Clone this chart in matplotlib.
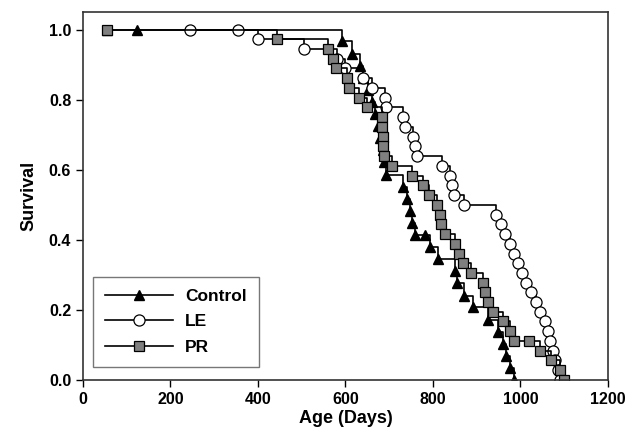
import numpy as np
import matplotlib
matplotlib.use("Agg")
import matplotlib.pyplot as plt

plt.rcParams['font.family'] = ['Liberation Sans', 'DejaVu Sans']
plt.rcParams['font.weight'] = 'bold'

# -------------------------------------------------------------------------------------------------- #

# Survival data (age in days, surviving fraction)

control_age = [55, 124, 592, 615, 633, 640, 652, 660, 668, 675, 680, 685, 688, 692, 731, 740, 748, 752,
               758, 782, 793, 811, 850, 856, 870, 892, 926, 949, 960, 968, 976, 985]
control_surv = [1.0, 1.0, 0.966, 0.931, 0.897, 0.862, 0.828, 0.793, 0.759, 0.724, 0.690, 0.655, 0.621,
                0.586, 0.552, 0.517, 0.483, 0.448, 0.414, 0.414, 0.379, 0.345, 0.310, 0.276, 0.241,
                0.207, 0.172, 0.138, 0.103, 0.069, 0.034, 0.0]

le_age = [245, 354, 400, 505, 580, 600, 640, 660, 690, 692, 732, 736, 755, 760, 763, 820, 839, 843, 848,
          870, 945, 955, 965, 975, 985, 995, 1003, 1012, 1025, 1035, 1045, 1055, 1062, 1068, 1075,
          1080, 1085, 1090]
le_surv = [1.0, 1.0, 0.972, 0.944, 0.917, 0.889, 0.861, 0.833, 0.806, 0.778, 0.750, 0.722, 0.694, 0.667,
           0.639, 0.611, 0.583, 0.556, 0.528, 0.500, 0.472, 0.444, 0.417, 0.389, 0.361, 0.333, 0.306,
           0.278, 0.250, 0.222, 0.194, 0.167, 0.139, 0.111, 0.083, 0.056, 0.028, 0.0]

pr_age = [55, 443, 560, 571, 578, 603, 609, 630, 650, 683, 684, 685, 686, 688, 706, 752, 778, 790, 809,
          816, 818, 827, 850, 860, 869, 888, 915, 919, 925, 937, 960, 976, 985, 1020, 1045, 1070,
          1090, 1100]
pr_surv = [1.0, 0.972, 0.944, 0.917, 0.889, 0.861, 0.833, 0.806, 0.778, 0.750, 0.722, 0.694, 0.667,
           0.639, 0.611, 0.583, 0.556, 0.528, 0.500, 0.472, 0.444, 0.417, 0.389, 0.361, 0.333, 0.306,
           0.278, 0.250, 0.222, 0.194, 0.167, 0.139, 0.111, 0.111, 0.083, 0.056, 0.028, 0.0]

# -------------------------------------------------------------------------------------------------- #

fig = plt.figure(figsize=(6.32, 4.45), dpi=100)
ax = fig.add_axes([0.1313, 0.146, 0.8307, 0.827])

ax.plot(control_age, control_surv, drawstyle='steps-post', color='black', lw=1.2,
        marker='^', ms=7.5, mfc='black', mec='black', label='Control')
ax.plot(le_age, le_surv, drawstyle='steps-post', color='black', lw=1.2,
        marker='o', ms=8, mfc='white', mec='black', mew=0.9, label='LE')
ax.plot(pr_age, pr_surv, drawstyle='steps-post', color='black', lw=1.2,
        marker='s', ms=7, mfc='#7f7f7f', mec='black', mew=0.9, label='PR')

ax.set_xlim(0, 1200)
ax.set_ylim(0, 1.05)
ax.set_xticks(np.arange(0, 1201, 200))
ax.set_yticks(np.arange(0, 1.01, 0.2))
ax.set_yticklabels([f'{v:.1f}' for v in np.arange(0, 1.01, 0.2)])
ax.tick_params(direction='out', length=5, width=1, labelsize=11.5)
for s in ax.spines.values():
    s.set_linewidth(1.2)
    s.set_color('#333333')

ax.set_xlabel('Age (Days)', fontsize=13, fontweight='bold', labelpad=2)
ax.set_ylabel('Survival', fontsize=13, fontweight='bold', labelpad=8)

leg = ax.legend(loc='lower left', bbox_to_anchor=(0.019, 0.035), borderaxespad=0,
                fancybox=False, handlelength=3.9, fontsize=12.5, borderpad=0.7, labelspacing=0.6,
                handletextpad=0.7)
leg.get_frame().set_edgecolor('#555555')
leg.get_frame().set_linewidth(1.0)

fig.savefig('out.png', dpi=100)
